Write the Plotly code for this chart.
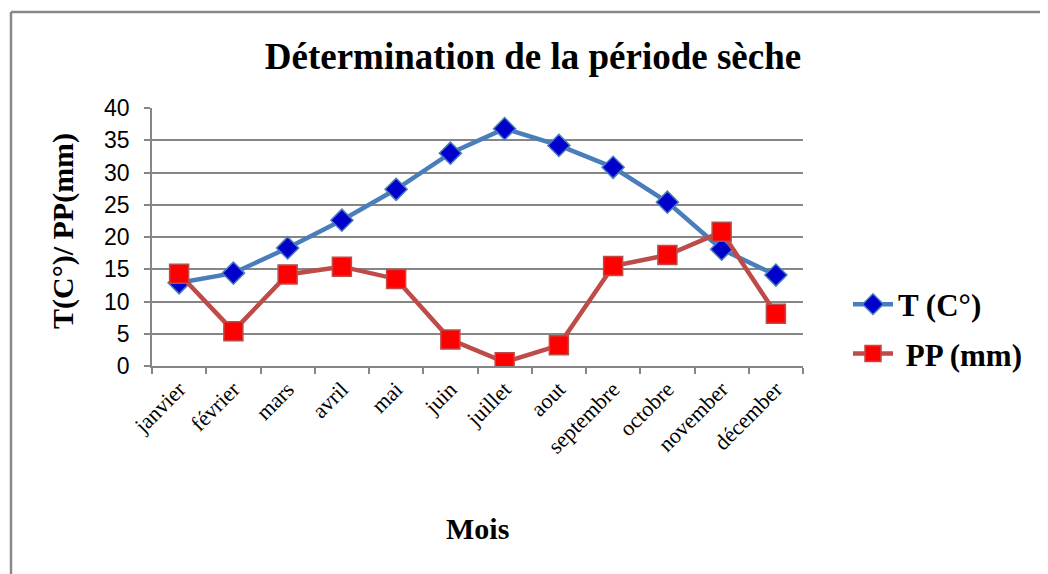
import plotly.graph_objects as go

months = ["janvier", "février", "mars", "avril", "mai", "juin", "juillet",
          "aout", "septembre", "octobre", "november", "décember"]
temp_c = [12.9, 14.4, 18.3, 22.6, 27.4, 33.0, 36.8, 34.2, 30.8, 25.4, 18.1, 14.1]
precip_mm = [14.3, 5.4, 14.2, 15.4, 13.5, 4.1, 0.6, 3.2, 15.5, 17.2, 20.8, 8.1]
y_ticks = [0, 5, 10, 15, 20, 25, 30, 35, 40]

OFF = 8  # page body margin
W, H = 1048 - OFF, 574 - OFF
# plot-area edges in screen pixels
L, R, T, B = 152, 803, 108, 366

def px_x(x):
    return (x - L) / (R - L)

def px_y(y):
    return (B - y) / (B - T)

serif = "Liberation Serif, Times New Roman, serif"

fig = go.Figure()
fig.add_trace(go.Scatter(
    x=months, y=temp_c, name="<b>T (C°)</b>", mode="lines+markers",
    legendgroup="t",
    line=dict(color="#4A7EBB", width=4.5),
    marker=dict(symbol="diamond", size=17, color="#0000CC",
                line=dict(color="#4A7EBB", width=1.5)),
))
fig.add_trace(go.Scatter(
    x=months, y=precip_mm, name="<b> PP (mm)</b>", mode="lines+markers",
    legendgroup="pp",
    line=dict(color="#BE4B48", width=4.5),
    marker=dict(symbol="square", size=19, color="#FF0000",
                line=dict(color="#BE4B48", width=1.5)),
))

fig.update_layout(
    width=W, height=H,
    margin=dict(l=L - OFF, r=W - (R - OFF), t=T - OFF, b=H - (B - OFF), pad=0),
    paper_bgcolor="white", plot_bgcolor="white",
    title=dict(text="<b>Détermination de la période sèche</b>",
               font=dict(family=serif, size=37, color="black"),
               x=px_x(533), xref="paper", xanchor="center",
               y=1 - (56 - OFF) / H, yref="container", yanchor="middle"),
    legend=dict(x=px_x(848), y=px_y(329), xanchor="left", yanchor="middle",
                font=dict(family=serif, size=31, color="black"),
                tracegroupgap=6, itemwidth=40,
                bgcolor="rgba(0,0,0,0)"),
    showlegend=True,
)
fig.update_xaxes(
    type="category", showgrid=False, showline=True, linecolor="#868686", linewidth=1.5,
    ticks="outside", ticklen=6, tickcolor="#868686", tickwidth=1.5,
    tickson="boundaries", tickangle=-45,
    tickfont=dict(family=serif, size=22, color="black"),
    range=[-0.5, 11.5], zeroline=False,
)
fig.update_yaxes(
    range=[0, 40], tickvals=y_ticks, showgrid=True, gridcolor="#868686", gridwidth=1.5,
    showline=True, linecolor="#868686", linewidth=1.5,
    ticks="outside", ticklen=6, tickcolor="#868686", tickwidth=1.5,
    ticklabelstandoff=10,
    tickfont=dict(family="Liberation Sans, Arial, sans-serif", size=23, color="black"),
    zeroline=False,
)

fig.add_annotation(text="<b>T(C°)/ PP(mm)</b>", textangle=-90,
                   x=px_x(63), y=px_y(231), xref="paper", yref="paper",
                   xanchor="center", yanchor="middle",
                   showarrow=False, font=dict(family=serif, size=30, color="black"))
fig.add_annotation(text="<b>Mois</b>",
                   x=px_x(477), y=px_y(528), xref="paper", yref="paper",
                   xanchor="center", yanchor="middle",
                   showarrow=False, font=dict(family=serif, size=30, color="black"))

# outer chart-area border (left and top edges visible)
fig.add_shape(type="line", xref="paper", yref="paper",
              x0=px_x(11), x1=px_x(11), y0=px_y(12), y1=px_y(600),
              line=dict(color="#888888", width=2.5))
fig.add_shape(type="line", xref="paper", yref="paper",
              x0=px_x(11), x1=px_x(1100), y0=px_y(12), y1=px_y(12),
              line=dict(color="#888888", width=2.5))

fig.write_html("out.html")
